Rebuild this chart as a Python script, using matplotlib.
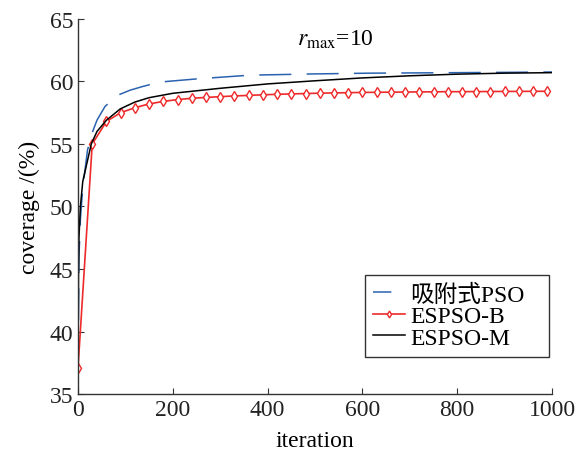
import matplotlib
matplotlib.use("Agg")
import matplotlib.pyplot as plt

plt.rcParams['font.family'] = ['Liberation Serif', 'Noto Sans CJK SC']
plt.rcParams['mathtext.fontset'] = 'stix'

# 吸附式PSO (blue dashed)
pso_iter = [0, 2, 5, 10, 15, 20, 30, 40, 57, 84, 110, 137, 173, 250, 363, 500, 616, 800, 1000]
pso_cov = [37.1, 46.0, 49.0, 51.5, 53.0, 54.5, 55.9, 56.9, 58.0, 58.9, 59.3, 59.6, 59.95,
           60.2, 60.5, 60.6, 60.66, 60.7, 60.75]

# ESPSO-B (red, diamond markers every 30 iterations)
espso_b_iter = list(range(0, 1000, 30))
espso_b_cov = [37.1, 55.0, 56.8, 57.5, 57.9, 58.2, 58.4, 58.55, 58.65, 58.72, 58.78, 58.84,
               58.88, 58.93, 58.97, 59.0, 59.03, 59.06, 59.08, 59.1, 59.12, 59.13, 59.14,
               59.15, 59.16, 59.17, 59.18, 59.18, 59.19, 59.19, 59.2, 59.2, 59.21, 59.21]

# ESPSO-M (black)
espso_m_iter = [0, 1, 2, 5, 10, 16, 28, 40, 60, 89, 120, 150, 200, 300, 400, 500, 600,
                700, 800, 900, 1000]
espso_m_cov = [37.1, 45.0, 47.5, 50.0, 52.0, 53.0, 55.0, 56.0, 56.9, 57.8, 58.35, 58.7,
               59.05, 59.45, 59.8, 60.05, 60.28, 60.45, 60.58, 60.66, 60.7]

fs = 17

fig = plt.figure(figsize=(5.84, 4.52), dpi=100)
ax = fig.add_axes([0.1336, 0.126, 0.8116, 0.83])

ax.plot(pso_iter, pso_cov, color='#2a62b0', lw=1.1, ls=(0, (21, 10)), label='吸附式PSO')
ax.plot(espso_b_iter, espso_b_cov, color='#ee2a2a', lw=1.2, marker='d', ms=5,
        mfc='white', mec='#ee2a2a', mew=1.0, label='ESPSO-B')
ax.plot(espso_m_iter, espso_m_cov, color='black', lw=1.1, label='ESPSO-M')

ax.set_xlim(0, 1000)
ax.set_ylim(35, 65)
ax.set_xticks([0, 200, 400, 600, 800, 1000])
ax.set_yticks([35, 40, 45, 50, 55, 60, 65])
ax.spines['top'].set_visible(False)
ax.spines['right'].set_visible(False)
ax.tick_params(direction='in', length=4, labelsize=fs, color='#333333', labelcolor='#222222')
for s in ('left', 'bottom'):
    ax.spines[s].set_linewidth(1.0)
    ax.spines[s].set_color('#333333')

ax.set_xlabel('iteration', fontsize=fs, labelpad=7)
ax.set_ylabel('coverage /(%)', fontsize=fs, labelpad=7)

ax.text(542, 63.4, r'$r_{\mathrm{max}}$=10', fontsize=fs, ha='center', va='center')

leg = ax.legend(loc='lower left', bbox_to_anchor=(0.6055, 0.099, 0.388, 0.2267),
                mode='expand', borderaxespad=0,
                fontsize=fs, frameon=True, fancybox=False, edgecolor='black',
                handlelength=1.35, handletextpad=0.2, labelspacing=0.0,
                borderpad=0.35, markerscale=0.7)
leg.get_frame().set_linewidth(1.0)
# blue handle in the original shows just one short dash
leg.get_lines()[0].set_linestyle((0, (12, 30)))

fig.savefig('out.png', dpi=100)
